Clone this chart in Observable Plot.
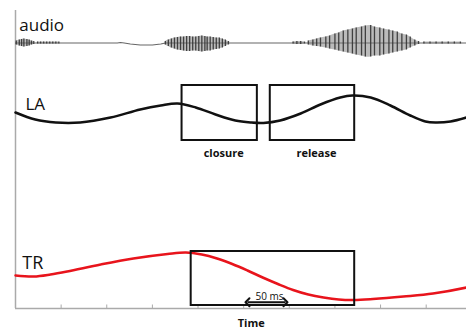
<!DOCTYPE html>
<html>
<head>
<meta charset="utf-8">
<script src="https://cdn.jsdelivr.net/npm/d3@7"></script>
<script src="https://cdn.jsdelivr.net/npm/@observablehq/plot@0.6"></script>
<style>
  html, body { margin: 0; padding: 0; background: #fff; }
  #chart svg { display: block; }
</style>
</head>
<body>
<div id="chart"></div>
<script>
// ---- Data (time in ms, amplitude in arbitrary units) ----
const tickTimes = [0, 60, 120, 180, 240, 300, 360, 420, 480, 540];

// Audio waveform: striation times, upper / lower excursion, segment id
const audioX = [
  1, 5, 8, 11, 15, 18, 21, 24,
  29, 33, 37, 41, 45, 49, 53, 57,
  197, 201, 205, 209, 213, 217, 221, 225, 229, 233, 237, 241, 245, 249, 252, 256, 260, 264, 268, 272, 276, 280,
  365, 370, 375, 380,
  385, 391, 396, 401, 408, 413, 420, 425, 431, 437, 443, 448, 455, 460, 467, 472, 479, 484, 491, 496, 502, 508, 514, 519, 525, 530,
  537, 545, 553, 561, 569, 577, 585
];
const audioUp = [
  2, 3, 3.5, 4, 3.5, 3, 2, 1.5,
  1, 1, 1, 1, 1, 1, 1, 1,
  1.5, 3, 4, 5, 5.5, 6, 6, 6.5, 6.5, 6, 6, 6.5, 7, 6.5, 6, 6, 5.5, 5, 5, 4, 3, 1.5,
  1, 1.5, 1.5, 1,
  2, 3, 4, 5, 6, 7, 9, 10, 12, 13, 14, 15, 16, 17, 17.5, 16, 15, 14, 13, 12, 11, 9, 8, 6, 3, 1.5,
  1, 1, 1, 1, 1, 1, 1
];
const audioDown = [
  2, 3, 3.5, 4, 3.5, 3, 2, 1.5,
  1, 1, 1, 1, 1, 1, 1, 1,
  2, 3.5, 5, 6, 7, 7.5, 8, 8.5, 8.5, 8, 8, 8.5, 9, 8.5, 8, 8, 7, 6.5, 6, 5, 3.5, 2,
  1, 1.5, 1.5, 1,
  2, 3, 3.5, 4, 5, 6, 7, 8, 9, 10, 11, 12, 13, 14, 14, 13, 13, 12, 11, 10, 9, 8, 7, 5, 3, 1.5,
  1, 1, 1, 1, 1, 1, 1
];
const audioSeg = [
  0, 0, 0, 0, 0, 0, 0, 0,
  1, 1, 1, 1, 1, 1, 1, 1,
  2, 2, 2, 2, 2, 2, 2, 2, 2, 2, 2, 2, 2, 2, 2, 2, 2, 2, 2, 2, 2, 2,
  3, 3, 3, 3,
  4, 4, 4, 4, 4, 4, 4, 4, 4, 4, 4, 4, 4, 4, 4, 4, 4, 4, 4, 4, 4, 4, 4, 4, 4, 4,
  5, 5, 5, 5, 5, 5, 5
];
// Slow drift of the audio baseline
const audioDriftT = [0, 134, 138, 143, 151, 164, 180, 191, 197, 593];
const audioDriftV = [0, 0, 0.5, 0, -1, -2, -2, -1, 0, 0];

// Lip aperture (LA)
const laT = [0, 26, 53, 85, 125, 164, 191, 213, 237, 263, 289, 309, 326, 348, 375, 401, 427, 443, 467, 493, 519, 539, 552, 572, 593];
const laV = [196, 189, 186, 186, 191, 199, 203, 205, 201, 194, 188, 186, 185.5, 188, 195, 204, 211, 213, 211, 203, 193, 187, 186, 187, 191];

// Tongue root (TR)
const trT = [0, 24, 46, 68, 112, 155, 200, 224, 245, 265, 285, 305, 325, 345, 365, 385, 405, 425, 445, 470, 510, 549, 593];
const trV = [33, 32, 34, 37, 44, 50, 54.5, 56, 54, 50, 44.5, 38, 31, 24.5, 18.5, 14, 11, 9, 8.5, 9.5, 12, 15, 21];

// Gesture intervals
const laBoxLabels = ["closure", "release"];
const laBoxStart = [219, 335];
const laBoxEnd = [318, 446];
const trBoxStart = [231];
const trBoxEnd = [446];

const scaleBarMs = 50;
const scaleBarStart = 305;

// ---- Tables ----
const audioBase = 265.5;
const audio = audioX.map((x, i) => ({x, up: audioUp[i], down: audioDown[i], seg: audioSeg[i]}));
const drift = audioDriftT.map((t, i) => ({t, v: audioBase + audioDriftV[i]}));
const la = laT.map((t, i) => ({t, v: laV[i]}));
const tr = trT.map((t, i) => ({t, v: trV[i]}));
const laBoxes = laBoxLabels.map((label, i) => ({label, x1: laBoxStart[i], x2: laBoxEnd[i]}));
const trBoxes = trBoxStart.map((s, i) => ({x1: s, x2: trBoxEnd[i]}));

const font = "'Open Sans', 'DejaVu Sans', sans-serif";

const chart = Plot.plot({
  width: 466,
  height: 331,
  marginLeft: 15,
  marginRight: 0,
  marginTop: 12,
  marginBottom: 23,
  x: {domain: [0, 593], axis: null},
  y: {domain: [0, 296], axis: null},
  style: {background: "#fff", fontFamily: font, color: "#111", overflow: "visible"},
  marks: [
    // axes
    Plot.ruleX([0], {y1: 0, y2: 298, stroke: "#aaa", strokeWidth: 1.5}),
    Plot.ruleY([0], {x1: 0, x2: 593, stroke: "#aaa", strokeWidth: 1.5}),
    Plot.ruleX(tickTimes, {y1: 0, y2: 3.5, stroke: "#aaa", strokeWidth: 1}),

    // audio
    Plot.line(drift, {x: "t", y: "v", stroke: "#666", strokeWidth: 1.2}),
    Plot.areaY(audio, {x: "x", y1: d => audioBase + d.up, y2: d => audioBase - d.down, z: "seg", curve: "natural", fill: "#777", fillOpacity: 0.5}),
    Plot.ruleX(audio, {x: "x", y1: d => audioBase + d.up, y2: d => audioBase - d.down, stroke: "#333", strokeWidth: 1.3, strokeOpacity: 0.9}),

    // LA
    Plot.line(la, {x: "t", y: "v", curve: "catmull-rom", stroke: "#111", strokeWidth: 2.5}),
    Plot.rect(laBoxes, {x1: "x1", x2: "x2", y1: 168, y2: 223, fill: "none", stroke: "#111", strokeWidth: 2}),
    Plot.text(laBoxes, {x: d => (d.x1 + d.x2) / 2, y: 152, text: "label", dx: 4, lineAnchor: "bottom", fontSize: 11, fontWeight: "bold", fill: "#111"}),

    // TR
    Plot.line(tr, {x: "t", y: "v", curve: "catmull-rom", stroke: "#e8141c", strokeWidth: 2.5}),
    Plot.rect(trBoxes, {x1: "x1", x2: "x2", y1: 3, y2: 57, fill: "none", stroke: "#111", strokeWidth: 2}),

    // scale bar
    Plot.link([scaleBarMs], {x1: scaleBarStart, x2: d => scaleBarStart + d, y1: 6.3, y2: 6.3, stroke: "#111", strokeWidth: 2, markerStart: "arrow-reverse", markerEnd: "arrow"}),
    Plot.text([`${scaleBarMs} ms`], {x: scaleBarStart + 29, y: 9, text: d => d, lineAnchor: "bottom", fontSize: 10, fill: "#111"}),

    // track labels
    Plot.text(["audio"], {x: 5, y: 278, text: d => d, textAnchor: "start", lineAnchor: "bottom", fontSize: 17, fontWeight: 500, fill: "#111"}),
    Plot.text(["LA"], {x: 13, y: 198.7, text: d => d, textAnchor: "start", lineAnchor: "bottom", fontSize: 17, fontWeight: 500, fill: "#111"}),
    Plot.text(["TR"], {x: 9, y: 39.7, text: d => d, textAnchor: "start", lineAnchor: "bottom", fontSize: 18, fontWeight: 500, fill: "#111"}),

    // x label
    Plot.text(["Time"], {x: 310, y: -18.5, text: d => d, lineAnchor: "bottom", fontSize: 11, fontWeight: "bold", fill: "#111"})
  ]
});
document.getElementById("chart").appendChild(chart);
</script>
</body>
</html>
